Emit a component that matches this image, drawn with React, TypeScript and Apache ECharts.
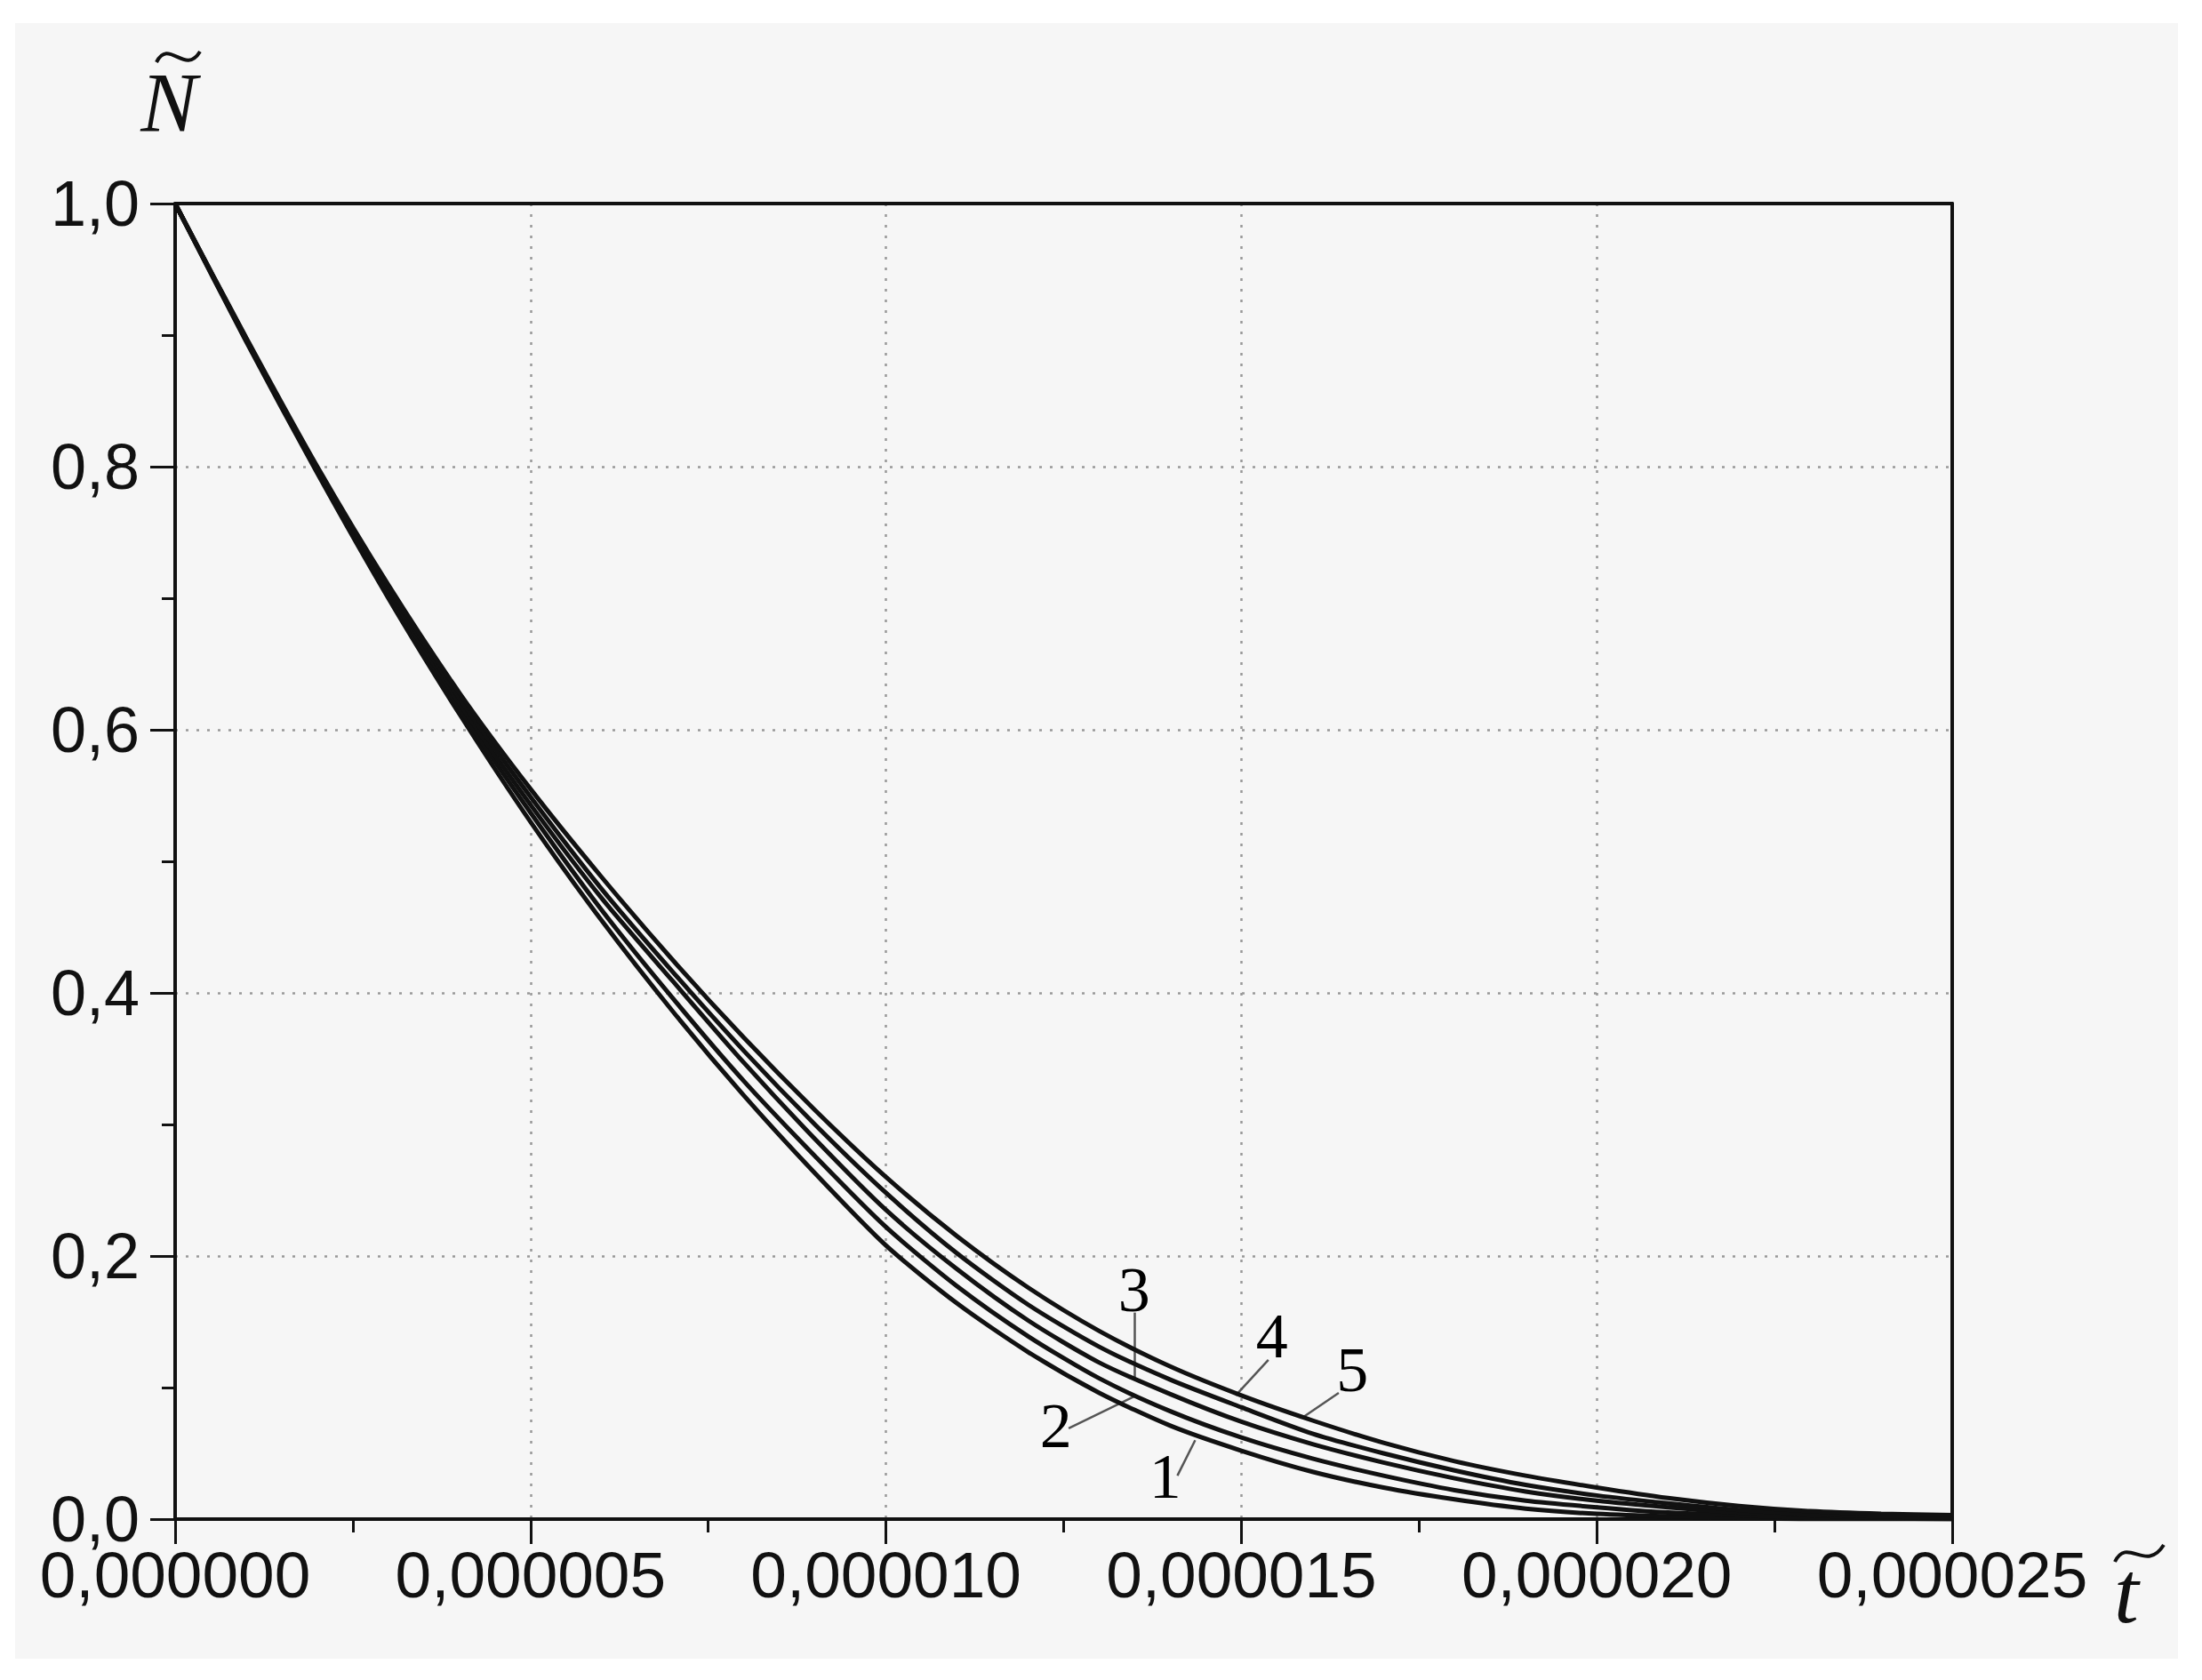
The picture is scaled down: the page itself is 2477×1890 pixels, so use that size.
import React, { useEffect, useRef } from "react";
import * as echarts from "echarts";

// time in units of 1e-6
const T_MICRO = [0, 1, 2, 3, 4, 5, 6, 7, 8, 9, 10, 11, 12, 13, 14, 15, 16, 17, 18, 19, 20, 21, 22, 23, 24, 25];
const CURVE_1 = [1, 0.895, 0.795, 0.700, 0.612, 0.530, 0.455, 0.386, 0.322, 0.263, 0.208, 0.164, 0.127, 0.096, 0.071, 0.052, 0.036, 0.024, 0.015, 0.008, 0.004, 0.002, 0.001, 0, 0, 0];
const CURVE_2 = [1, 0.896, 0.797, 0.703, 0.616, 0.537, 0.463, 0.396, 0.333, 0.276, 0.222, 0.177, 0.139, 0.107, 0.082, 0.062, 0.046, 0.033, 0.022, 0.014, 0.009, 0.005, 0.003, 0.001, 0.0005, 0];
const CURVE_3 = [1, 0.897, 0.798, 0.705, 0.620, 0.543, 0.472, 0.409, 0.347, 0.289, 0.235, 0.190, 0.151, 0.119, 0.095, 0.074, 0.057, 0.043, 0.031, 0.021, 0.014, 0.009, 0.005, 0.003, 0.001, 0.0005];
const CURVE_4 = [1, 0.897, 0.799, 0.708, 0.624, 0.549, 0.479, 0.416, 0.356, 0.300, 0.248, 0.202, 0.163, 0.131, 0.106, 0.085, 0.065, 0.050, 0.037, 0.026, 0.018, 0.012, 0.007, 0.004, 0.002, 0.001];
const CURVE_5 = [1, 0.898, 0.800, 0.710, 0.628, 0.555, 0.488, 0.425, 0.366, 0.311, 0.260, 0.215, 0.176, 0.143, 0.116, 0.094, 0.075, 0.058, 0.044, 0.033, 0.024, 0.016, 0.010, 0.006, 0.004, 0.003];
const CURVES = [CURVE_1, CURVE_2, CURVE_3, CURVE_4, CURVE_5];

// curve number labels (t in 1e-6, N)
const LABEL_NAMES = ["1", "2", "3", "4", "5"];
const LABEL_POS = [[13.93, 0.0324], [12.39, 0.071], [13.49, 0.174], [15.43, 0.139], [16.56, 0.1135]];
const LEADER_FROM = [[14.10, 0.033], [12.57, 0.069], [13.50, 0.157], [15.38, 0.121], [16.37, 0.096]];
const LEADER_TO = [[14.35, 0.0600], [13.50, 0.0935], [13.50, 0.1080], [14.92, 0.094], [15.87, 0.0775]];

const X_MIN = 0;
const X_MAX = 0.000025;
const X_STEP = 0.000005;
const Y_MIN = 0;
const Y_MAX = 1;
const Y_STEP = 0.2;

const SANS = '"Liberation Sans", Arial, sans-serif';
const SERIF = '"Liberation Serif", "Times New Roman", serif';

export default function App() {
  const ref = useRef<HTMLDivElement>(null);

  useEffect(() => {
    document.body.style.margin = "0";
    const chart = echarts.init(ref.current!, null, { renderer: "svg" });

    const lineSeries = CURVES.map((c, k) => ({
      type: "line",
      name: "curve " + (k + 1),
      data: T_MICRO.map((t, i) => [t * 1e-6, c[i]]),
      showSymbol: false,
      smooth: 0.25,
      lineStyle: { color: "#111", width: 5 },
      z: 5,
    }));

    const labelSeries = {
      type: "scatter",
      name: "labels",
      symbolSize: 1,
      itemStyle: { color: "transparent" },
      z: 6,
      data: LABEL_NAMES.map((n, i) => ({ name: n, value: [LABEL_POS[i][0] * 1e-6, LABEL_POS[i][1]] })),
      label: {
        show: true,
        position: "inside",
        formatter: "{b}",
        fontFamily: SERIF,
        fontSize: 72,
        color: "#000",
        opacity: 1,
      },
      emphasis: { disabled: true },
      markLine: {
        silent: true,
        symbol: ["none", "none"],
        label: { show: false },
        lineStyle: { color: "#555", width: 2.5, type: "solid" },
        data: LEADER_FROM.map((f, i) => [
          { coord: [f[0] * 1e-6, f[1]] },
          { coord: [LEADER_TO[i][0] * 1e-6, LEADER_TO[i][1]] },
        ]),
      },
    };

    const frameAxisLine = { show: true, onZero: false, lineStyle: { color: "#111", width: 4 } };
    const tickStyle = { color: "#111", width: 3 };
    const gridStyle = { color: "#999", width: 2.5, type: [3, 9] };

    chart.setOption({
      animation: false,
      backgroundColor: "transparent",
      grid: {
        left: 197,
        top: 229,
        right: 281,
        bottom: 181,
        show: false,
      },
      xAxis: [
        {
          type: "value",
          min: X_MIN,
          max: X_MAX,
          interval: X_STEP,
          position: "bottom",
          axisLine: frameAxisLine,
          axisTick: { show: true, inside: false, length: 28, lineStyle: tickStyle },
          minorTick: { show: true, splitNumber: 2, length: 15, lineStyle: tickStyle },
          splitLine: { show: true, showMinLine: false, showMaxLine: false, lineStyle: gridStyle },
          axisLabel: {
            margin: 38,
            fontFamily: SANS,
            fontSize: 73,
            lineHeight: 48,
            color: "#111",
            formatter: (v: number) => v.toFixed(6).replace(".", ","),
          },
        },
        {
          type: "value",
          min: X_MIN,
          max: X_MAX,
          position: "top",
          axisLine: frameAxisLine,
          axisTick: { show: false },
          splitLine: { show: false },
          axisLabel: { show: false },
        },
      ],
      yAxis: [
        {
          type: "value",
          min: Y_MIN,
          max: Y_MAX,
          interval: Y_STEP,
          position: "left",
          axisLine: frameAxisLine,
          axisTick: { show: true, inside: false, length: 28, lineStyle: tickStyle },
          minorTick: { show: true, splitNumber: 2, length: 15, lineStyle: tickStyle },
          splitLine: { show: true, showMinLine: false, showMaxLine: false, lineStyle: gridStyle },
          axisLabel: {
            margin: 40,
            fontFamily: SANS,
            fontSize: 72,
            lineHeight: 44,
            color: "#111",
            formatter: (v: number) => v.toFixed(1).replace(".", ","),
          },
        },
        {
          type: "value",
          min: Y_MIN,
          max: Y_MAX,
          position: "right",
          axisLine: frameAxisLine,
          axisTick: { show: false },
          splitLine: { show: false },
          axisLabel: { show: false },
        },
      ],
      graphic: [
        {
          type: "text",
          x: 190,
          y: 116,
          style: {
            text: "N",
            font: "italic 95px " + SERIF,
            fill: "#111",
            align: "center",
            verticalAlign: "middle",
          },
        },
        {
          type: "bezierCurve",
          shape: { x1: 176, y1: 70, cpx1: 190, cpy1: 42, cpx2: 208, cpy2: 86, x2: 225, y2: 58 },
          style: { stroke: "#111", lineWidth: 4, fill: "none" },
        },
        {
          type: "text",
          x: 2392,
          y: 1791,
          style: {
            text: "t",
            font: "italic 100px " + SERIF,
            fill: "#111",
            align: "center",
            verticalAlign: "middle",
          },
        },
        {
          type: "bezierCurve",
          shape: { x1: 2379, y1: 1757, cpx1: 2393, cpy1: 1728, cpx2: 2414, cpy2: 1770, x2: 2434, y2: 1738 },
          style: { stroke: "#111", lineWidth: 4, fill: "none" },
        },
      ],
      series: [...lineSeries, labelSeries],
    });

    return () => chart.dispose();
  }, []);

  return (
    <div style={{ position: "relative", width: 2477, height: 1890, background: "#ffffff", overflow: "hidden" }}>
      <div style={{ position: "absolute", left: 17, top: 26, width: 2433, height: 1840, background: "#f6f6f6" }} />
      <div ref={ref} style={{ position: "absolute", left: 0, top: 0, width: 2477, height: 1890 }} />
    </div>
  );
}
